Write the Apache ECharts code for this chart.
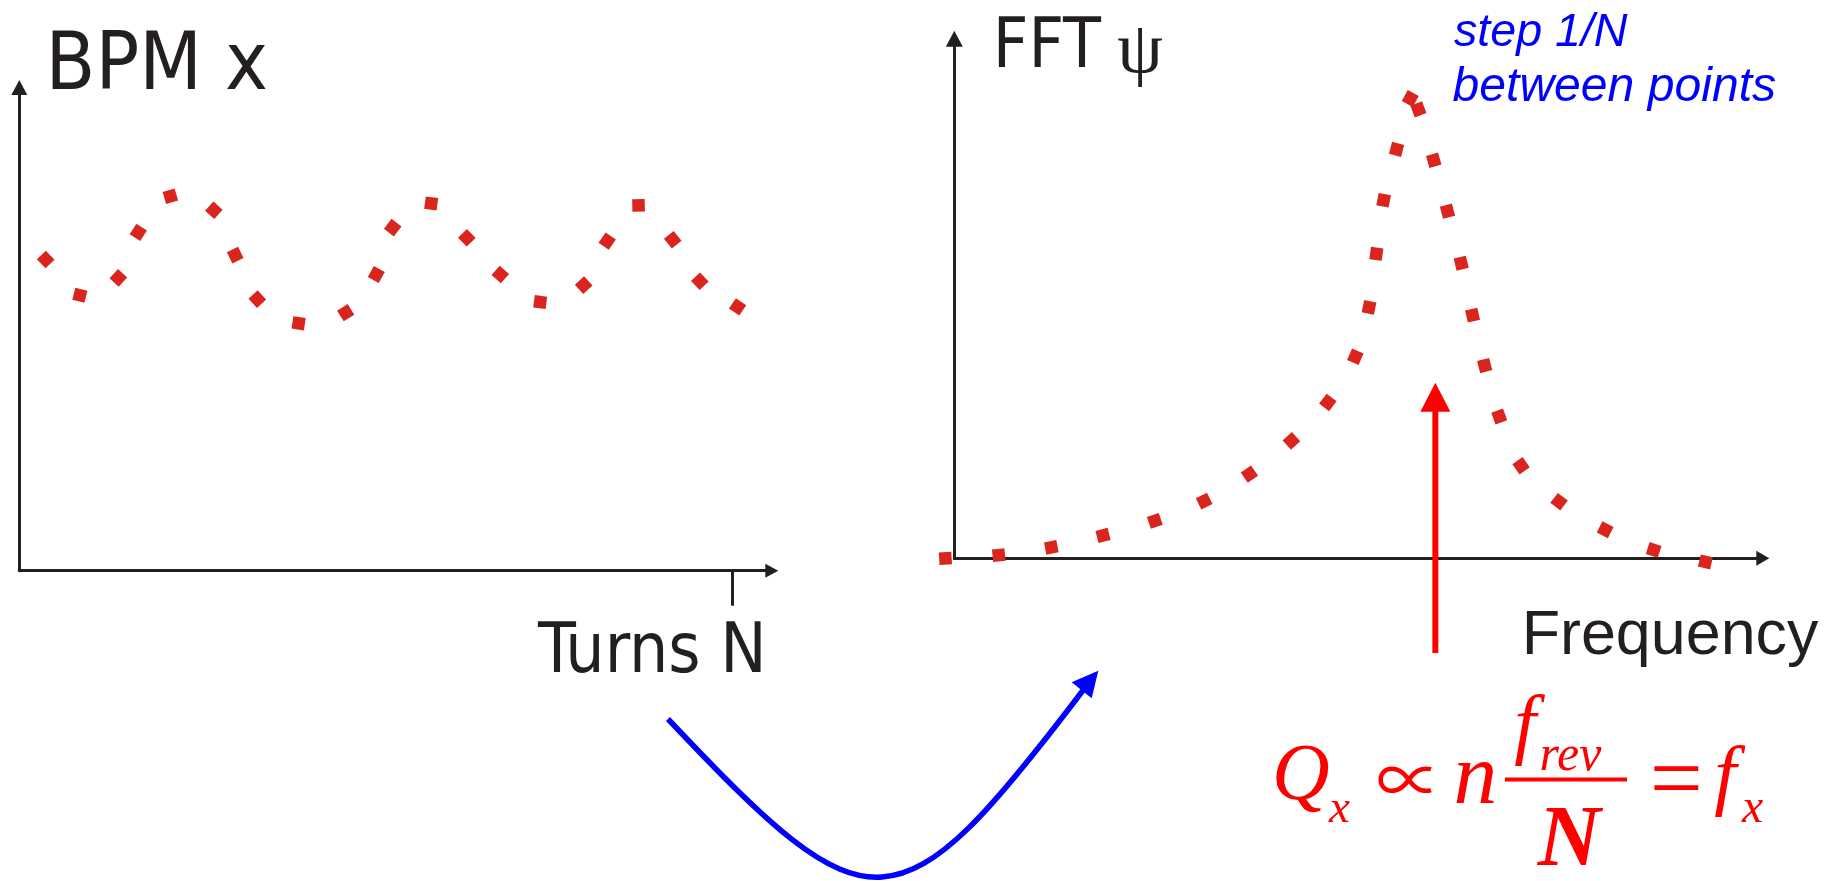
<!DOCTYPE html>
<html>
<head>
<meta charset="utf-8">
<script src="https://cdn.jsdelivr.net/npm/echarts@6/dist/echarts.min.js"></script>
<style>
html,body{margin:0;padding:0;background:#ffffff;}
#c{width:1846px;height:881px;}
</style>
</head>
<body>
<div id="c"></div>
<script>
// ---------- DATA ----------
// Left panel: BPM position reading, sampled turn by turn (x in turns, tick at N)
const bpmTurns = [3.7, 8.5, 13.9, 16.7, 21.2, 27.3, 30.3, 33.4, 39.2, 45.8, 50.1, 52.4, 57.8, 62.8, 67.5, 73.1, 79.2, 82.5, 86.9, 91.7, 95.5, 100.8];
const bpmX     = [64.4, 57.0, 60.6, 70.0, 77.5, 74.6, 65.3, 56.2, 51.2, 53.4, 61.3, 71.0, 76.0, 68.9, 61.3, 55.6, 59.1, 68.2, 75.6, 68.5, 59.9, 54.6];
const turnsN = 100;

// Right panel: FFT amplitude vs frequency
const fftFreq = [-1.1, 5.5, 12.0, 18.4, 24.8, 30.9, 36.5, 41.7, 46.2, 49.6, 51.3, 52.2, 53.1, 54.7, 56.4, 57.4, 59.3, 61.0, 62.7, 64.1, 65.6, 67.4, 70.1, 74.8, 80.5, 86.5, 92.9];
const fftAmp  = [0.0, 0.6, 2.1, 4.4, 7.2, 11.0, 16.2, 22.6, 30.0, 38.8, 48.3, 58.6, 68.9, 78.7, 88.5, 86.4, 76.6, 66.8, 56.8, 46.8, 37.1, 27.3, 17.8, 10.9, 5.5, 1.6, -0.7];
const qxFreq = 59.5;

// Texts
const leftTitle = 'BPM x';
const leftXName = 'Turns N';
const rightTitle = 'FFT';
const rightTitleSym = 'ψ';
const rightXName = 'Frequency';
const noteLines = ['step 1/N', 'between points'];

// ---------- CHART ----------
const chart = echarts.init(document.getElementById('c'), null, {renderer: 'canvas'});
const AX = '#231f20';
const DOT = '#d9251d';
const RED = '#ff0000';
const BLUE = '#0000ff';

function axisLine(sym) {
  return {show: true, onZero: false, symbol: ['none', 'triangle'], symbolSize: sym,
          lineStyle: {color: AX, width: 3}};
}
const hidden = {axisLabel: {show: false}, splitLine: {show: false}};

const option = {
  animation: false,
  backgroundColor: '#ffffff',
  grid: [
    {left: 19.3, top: 87.5, width: 752.5, height: 483.2},
    {left: 954.3, top: 38.7, width: 808.5, height: 519.6}
  ],
  xAxis: [
    Object.assign({type: 'value', gridIndex: 0, min: 0, max: 105.6,
      axisLine: axisLine([14, 13]),
      axisTick: {show: true, customValues: [turnsN], length: 35, inside: false, lineStyle: {color: AX, width: 3}}}, hidden),
    Object.assign({type: 'value', gridIndex: 1, min: 0, max: 100,
      axisLine: axisLine([15, 13]), axisTick: {show: false}}, hidden)
  ],
  yAxis: [
    Object.assign({type: 'value', gridIndex: 0, min: 0, max: 100,
      axisLine: axisLine([16, 15]), axisTick: {show: false}}, hidden),
    Object.assign({type: 'value', gridIndex: 1, min: 0, max: 100,
      axisLine: axisLine([17, 16]), axisTick: {show: false}}, hidden)
  ],
  series: [
    {type: 'scatter', xAxisIndex: 0, yAxisIndex: 0, clip: false, silent: true,
     symbol: 'rect', symbolSize: 12.5, itemStyle: {color: DOT, opacity: 1},
     data: bpmTurns.map((t, i) => [t, bpmX[i]])},
    {type: 'scatter', xAxisIndex: 1, yAxisIndex: 1, clip: false, silent: true,
     symbol: 'rect', symbolSize: 12.5, itemStyle: {color: DOT, opacity: 1},
     data: fftFreq.map((f, i) => [f, fftAmp[i]])}
  ]
};
chart.setOption(option);

// rotate each dot along the local direction of the dotted curve
function rotated(xs, ys, gi) {
  const px = xs.map((x, i) => chart.convertToPixel({gridIndex: gi}, [x, ys[i]]));
  return xs.map((x, i) => {
    const a = px[Math.max(0, i - 1)], b = px[Math.min(px.length - 1, i + 1)];
    const ang = Math.atan2(b[1] - a[1], b[0] - a[0]) * 180 / Math.PI;
    return {value: [x, ys[i]], symbolRotate: -ang};
  });
}

// place text so that its ink box matches a target box (measured with canvas)
// mode: 'h' fit height, 'w' fit width, 'avg' average of both
const mctx = document.createElement('canvas').getContext('2d');
const inkRight = {};
function fit(key, text, style, family, box, color, mode, center) {
  mctx.font = style + ' 100px ' + family;
  mctx.textBaseline = 'alphabetic';
  const m = mctx.measureText(text);
  const asc = m.actualBoundingBoxAscent, desc = m.actualBoundingBoxDescent;
  const L = m.actualBoundingBoxLeft, R = m.actualBoundingBoxRight;
  mctx.textBaseline = 'middle';
  const mm = mctx.measureText(text);
  const d = asc - mm.actualBoundingBoxAscent;
  const sh = 100 * (box.bottom - box.top) / (asc + desc);
  const sw = box.right != null ? 100 * (box.right - box.left) / (L + R) : sh;
  const s = mode === 'w' ? sw : (mode === 'avg' ? (sh + sw) / 2 : sh);
  const k = s / 100;
  const baseline = (box.top + box.bottom) / 2 + (asc - desc) / 2 * k;
  let x;
  if (center && box.right != null) {
    x = (box.left + box.right) / 2 - (R - L) / 2 * k;
  } else {
    x = box.left + L * k;
  }
  inkRight[key] = x + R * k;
  return {type: 'text', x: x, y: baseline - d * k, silent: true, z: 10,
    style: {text: text, font: style + ' ' + s.toFixed(1) + 'px ' + family, fill: color,
            align: 'left', verticalAlign: 'middle'}};
}
const NARROW = '"Liberation Sans Narrow", "DejaVu Sans Condensed", sans-serif';
const SANS = '"Liberation Sans", Arial, sans-serif';
const SERIF = '"Liberation Serif", "DejaVu Serif", serif';
const SYM = '"Noto Sans CJK JP", "DejaVu Sans", sans-serif';

const qxPx = chart.convertToPixel({xAxisIndex: 1}, qxFreq);

const graphics = [];
graphics.push(
  fit('t1', leftTitle, 'normal', NARROW, {left: 52, top: 30, bottom: 90.7, right: 263}, AX, 'avg'),
  fit('t2', leftXName, 'normal', NARROW, {left: 537.3, top: 620.7, bottom: 673.3, right: 756.7}, AX, 'avg'),
  fit('t3', rightTitle, 'normal', NARROW, {left: 998.3, top: 14, bottom: 68.3, right: 1095}, AX, 'avg'),
  fit('t4', rightTitleSym, 'normal', SERIF, {left: 1118, top: 32.3, bottom: 84, right: 1168}, AX, 'avg'),
  fit('t5', noteLines[0], 'italic', SANS, {left: 1454, top: 12.7, bottom: 55, right: 1628}, BLUE, 'w'),
  fit('t6', noteLines[1], 'italic', SANS, {left: 1453, top: 63.3, bottom: 113.3, right: 1775}, BLUE, 'w'),
  fit('t7', rightXName, 'normal', SANS, {left: 1526.7, top: 611.7, bottom: 667, right: 1825}, AX, 'avg')
);
// formula  Q_x ∝ n f_rev / N = f_x
graphics.push(
  fit('Q', 'Q', 'italic', SERIF, {left: 1276, top: 746.7, bottom: 813}, RED, 'h'),
  fit('Qx', 'x', 'italic', SERIF, {left: 1328, top: 800, bottom: 821.7}, RED, 'h'),
  fit('prop', '∝', 'normal', SYM, {left: 1375.6, top: 768, bottom: 792, right: 1435}, RED, 'avg', true),
  fit('n', 'n', 'italic', SERIF, {left: 1453, top: 765, bottom: 800, right: 1497}, RED, 'avg', true),
  fit('fn', 'f', 'italic', SERIF, {left: 1515, top: 693, bottom: 765}, RED, 'h')
);
graphics.push(
  fit('rev', 'rev', 'italic', SERIF, {left: inkRight.fn - 4, top: 746.7, bottom: 770, right: inkRight.fn - 4 + 63}, RED, 'avg'),
  {type: 'rect', silent: true, z: 10, shape: {x: 1505, y: 777.5, width: 122, height: 4}, style: {fill: RED}},
  fit('N', 'N', 'italic bold', SERIF, {left: 1535, top: 810, bottom: 864, right: 1606}, RED, 'avg', true),
  fit('eq', '=', 'normal', SERIF, {left: 1650, top: 768, bottom: 788, right: 1702}, RED, 'avg', true),
  fit('fx', 'f', 'italic', SERIF, {left: 1715, top: 744, bottom: 817}, RED, 'h')
);
graphics.push(
  fit('fxs', 'x', 'italic', SERIF, {left: inkRight.fx - 5, top: 800, bottom: 822}, RED, 'h'),
  // red arrow marking the tune frequency
  {type: 'rect', silent: true, z: 10, shape: {x: qxPx - 3, y: 408, width: 6, height: 245}, style: {fill: RED}},
  {type: 'polygon', silent: true, z: 10, shape: {points: [[qxPx, 382.7], [qxPx - 15, 411.7], [qxPx + 15, 411.7]]}, style: {fill: RED}},
  // blue curved arrow from time domain to frequency domain
  {type: 'bezierCurve', silent: true, z: 10,
   shape: {x1: 668, y1: 719, cpx1: 870.7, cpy1: 933.9, cpx2: 897.3, cpy2: 935.4, x2: 1084, y2: 689},
   style: {stroke: BLUE, lineWidth: 5.5, fill: null}},
  {type: 'polygon', silent: true, z: 10, shape: {points: [[1098.3, 670.7], [1071.7, 682.3], [1091.7, 698.3]]}, style: {fill: BLUE}}
);

chart.setOption({
  series: [{data: rotated(bpmTurns, bpmX, 0)}, {data: rotated(fftFreq, fftAmp, 1)}],
  graphic: {elements: graphics}
});
</script>
</body>
</html>
